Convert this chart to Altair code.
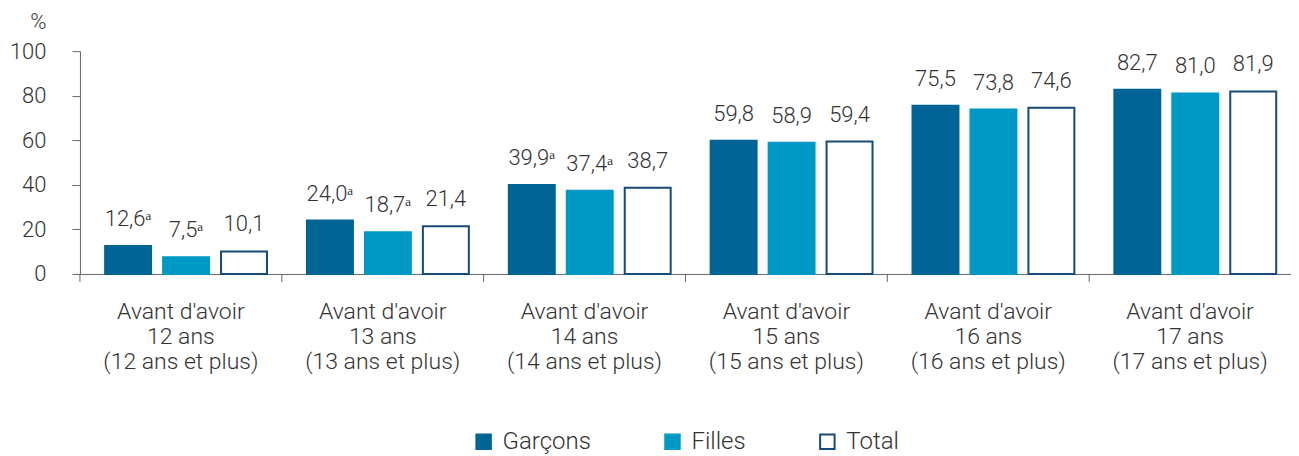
import altair as alt
import pandas as pd

groups = [
    "Avant d'avoir|12 ans|(12 ans et plus)",
    "Avant d'avoir|13 ans|(13 ans et plus)",
    "Avant d'avoir|14 ans|(14 ans et plus)",
    "Avant d'avoir|15 ans|(15 ans et plus)",
    "Avant d'avoir|16 ans|(16 ans et plus)",
    "Avant d'avoir|17 ans|(17 ans et plus)",
]
series = ["Garçons", "Filles", "Total"]
garcons = [12.6, 24.0, 39.9, 59.8, 75.5, 82.7]
filles = [7.5, 18.7, 37.4, 58.9, 73.8, 81.0]
total = [10.1, 21.4, 38.7, 59.4, 74.6, 81.9]
garcons_sup = [True, True, True, False, False, False]
filles_sup = [True, True, True, False, False, False]
total_sup = [False, False, False, False, False, False]

colors_fill = ["#006494", "#0099c6", "#ffffff"]
colors_stroke = ["#006494", "#0099c6", "#174a78"]

rows = []
for s, vals, sups in [("Garçons", garcons, garcons_sup), ("Filles", filles, filles_sup), ("Total", total, total_sup)]:
    for g, v, sp in zip(groups, vals, sups):
        lab = f"{v:.1f}".replace(".", ",") + ("\u1d43" if sp else "")
        rows.append({"groupe": g, "serie": s, "valeur": v, "label": lab})
df = pd.DataFrame(rows)
df_groups = pd.DataFrame({"groupe": groups})

FONT = "Roboto"
TXT = "#333333"
AX = "#666666"
H = 223

legend_def = alt.Legend(
    title=None, orient="none", legendX=392, legendY=379, direction="horizontal",
    symbolType="square", symbolSize=210, symbolStrokeWidth=2,
    labelFont=FONT, labelFontSize=24, labelFontWeight=300, labelColor=TXT,
    labelOffset=7, columnPadding=69, labelLimit=0,
)

xenc = alt.X(
    "groupe:N", sort=groups,
    scale=alt.Scale(paddingInner=0, paddingOuter=0),
    axis=alt.Axis(
        title=None, labelAngle=0, ticks=False,
        labelExpr="split(datum.value, '|')", labelLineHeight=25,
        labelFont=FONT, labelFontSize=23, labelFontWeight=300, labelColor=TXT,
        labelPadding=27, labelOverlap=False, labelLimit=0,
        domainColor=AX,
    ),
)

base = alt.Chart(df).encode(
    x=xenc,
    xOffset=alt.XOffset(
        "serie:N", sort=series,
        scale=alt.Scale(paddingInner=0.207, paddingOuter=0.345, align=0.63),
    ),
    y=alt.Y(
        "valeur:Q",
        scale=alt.Scale(domain=[0, 100]),
        axis=alt.Axis(
            title="%", titleAngle=0, titleX=-42, titleY=-23, titleAlign="center",
            titleBaseline="alphabetic", titleFont=FONT, titleFontSize=22,
            titleFontWeight=300, titleColor=TXT,
            values=[0, 20, 40, 60, 80, 100], grid=False,
            labelFont=FONT, labelFontSize=22, labelFontWeight=300, labelColor=TXT,
            labelPadding=26, tickSize=8, tickColor=AX, domainColor=AX,
        ),
    ),
)

bars = base.mark_bar(strokeWidth=2).encode(
    fill=alt.Fill("serie:N", scale=alt.Scale(domain=series, range=colors_fill), legend=legend_def),
    stroke=alt.Stroke("serie:N", scale=alt.Scale(domain=series, range=colors_stroke), legend=legend_def),
)

texts = base.mark_text(
    baseline="alphabetic", dy=-20, font=FONT, fontSize=22, fontWeight=300, color=TXT,
).encode(text="label:N")

ticks = alt.Chart(df_groups).mark_rule(color=AX, strokeWidth=1).encode(
    x=alt.X("groupe:N", sort=groups, bandPosition=0),
    y=alt.value(H),
    y2=alt.value(H + 8),
)

chart = (
    alt.layer(bars, texts, ticks)
    .properties(width=1212, height=H, padding={"left": 1, "top": 2, "right": 0, "bottom": 0})
    .configure_view(stroke=None)
)

chart.save("out.html", embed_options={"renderer": "svg", "actions": False})
